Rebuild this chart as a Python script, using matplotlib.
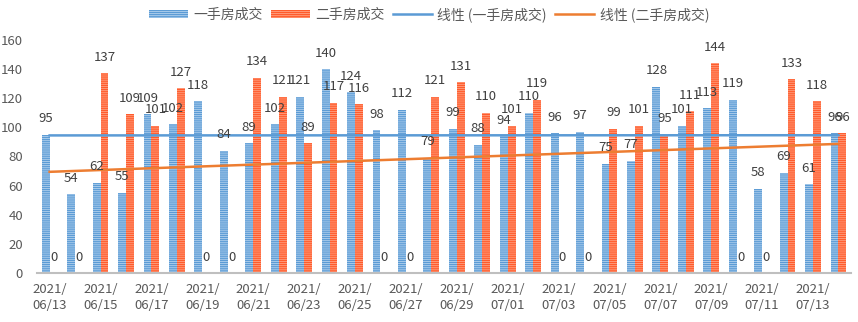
import numpy as np
import matplotlib
matplotlib.use('Agg')
import matplotlib.pyplot as plt
from matplotlib.patches import Patch
from matplotlib.lines import Line2D

plt.rcParams['font.family'] = ['Noto Sans CJK SC', 'DejaVu Sans']
plt.rcParams['hatch.linewidth'] = 0.7

# datos
fechas = ['06/13', '06/14', '06/15', '06/16', '06/17', '06/18', '06/19', '06/20',
          '06/21', '06/22', '06/23', '06/24', '06/25', '06/26', '06/27', '06/28',
          '06/29', '06/30', '07/01', '07/02', '07/03', '07/04', '07/05', '07/06',
          '07/07', '07/08', '07/09', '07/10', '07/11', '07/12', '07/13', '07/14']
yishou = [95, 54, 62, 55, 109, 102, 118, 84, 89, 102, 121, 140, 124, 98, 112, 79,
          99, 88, 94, 110, 96, 97, 75, 77, 128, 101, 113, 119, 58, 69, 61, 96]
ershou = [0, 0, 137, 109, 101, 127, 0, 0, 134, 121, 89, 117, 116, 0, 0, 121,
          131, 110, 101, 119, 0, 0, 99, 101, 95, 111, 144, 0, 0, 133, 118, 96]

azul = '#5B9BD5'
azul_claro = '#A9CBEB'
naranja = '#FF5B2B'
naranja_claro = '#FF9A7A'
gris = '#595959'

x = np.arange(len(fechas))
ancho = 0.31

fig = plt.figure(figsize=(8.58, 3.22), dpi=100)
ax = fig.add_axes([0.043, 0.152, 0.949, 0.724])

b1 = ax.bar(x - ancho / 2, yishou, ancho, color=azul, edgecolor=azul_claro,
            linewidth=0, hatch='--------')
b2 = ax.bar(x + ancho / 2, ershou, ancho, color=naranja, edgecolor=naranja_claro,
            linewidth=0, hatch='--------')

# etiquetas de datos
for xi, v in zip(x - ancho / 2, yishou):
    ax.annotate(str(v), (xi, v), xytext=(0, 11.5), textcoords='offset points',
                ha='center', va='center', fontsize=9.5, color='#404040')
for xi, v in zip(x + ancho / 2, ershou):
    ax.annotate(str(v), (xi, v), xytext=(0, 11.5), textcoords='offset points',
                ha='center', va='center', fontsize=9.5, color='#404040')

# lineas de tendencia
p1 = np.polyfit(x, yishou, 1)
p2 = np.polyfit(x, ershou, 1)
ax.plot(x, np.polyval(p1, x), color=azul, linewidth=1.8)
ax.plot(x, np.polyval(p2, x), color='#ED7D31', linewidth=1.8)

ax.set_xlim(-0.5, 31.5)
ax.set_ylim(0, 160)
ax.set_yticks(range(0, 161, 20))
ax.set_xticks(x[::2])
ax.set_xticklabels(['2021/\n' + f for f in fechas[::2]], linespacing=1.35)
ax.tick_params(axis='both', length=0, labelsize=9.5, colors=gris)
ax.tick_params(axis='x', pad=7)
ax.tick_params(axis='y', pad=10)
for s in ['top', 'right', 'left']:
    ax.spines[s].set_visible(False)
ax.spines['bottom'].set_color('#BFBFBF')
ax.spines['bottom'].set_linewidth(1.5)

handles = [
    Patch(facecolor=azul, edgecolor=azul_claro, linewidth=0, hatch='--------'),
    Patch(facecolor=naranja, edgecolor=naranja_claro, linewidth=0, hatch='--------'),
    Line2D([], [], color=azul, linewidth=1.8),
    Line2D([], [], color='#ED7D31', linewidth=1.8),
]
etiquetas = ['一手房成交', '二手房成交', '线性 (一手房成交)', '线性 (二手房成交)']
fig.legend(handles, etiquetas, loc='center', bbox_to_anchor=(0.5, 0.955), ncol=4,
           frameon=False, fontsize=10, labelcolor=gris, handlelength=2.8,
           handleheight=0.6, columnspacing=0.6, handletextpad=0.4)

fig.savefig('out.png', dpi=100)
